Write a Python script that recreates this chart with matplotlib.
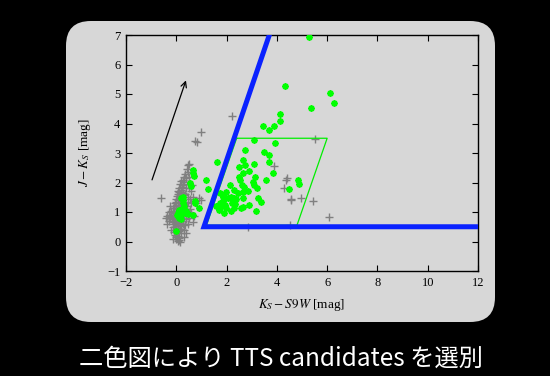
import matplotlib.pyplot as plt
from matplotlib.patches import FancyBboxPatch

plt.rcParams['mathtext.fontset'] = 'stix'
plt.rcParams['font.family'] = ['Liberation Serif']

# field stars (gray +)
field_x = [0.52, 0.45, 0.42, 0.48, 0.35, 0.30, 0.38, 0.25, 0.32, 0.20, 0.15, 0.28, 0.22, 0.10,
           0.40, 0.18, 0.05, 0.12, 0.25, 0.08, 0.30, 0.15, 0.02, 0.20, 0.10, -0.02, 0.05, 0.18,
           0.25, 0.00, -0.05, 0.10, 0.15, 0.05, -0.08, 0.20, 0.00, -0.12, 0.08, 0.30, -0.03, 0.12,
           -0.15, 0.05, 0.22, -0.08, 0.00, 0.15, -0.20, -0.10, 0.08, 0.30, -0.25, 0.02, -0.05, 0.18,
           -0.18, 0.10, -0.30, -0.08, 0.05, 0.25, -0.15, 0.00, 0.15, -0.10, 0.08, -0.02, 0.20, -0.12,
           0.05, 0.15, -0.05, 0.10, -0.08, 0.02, 0.18, -0.05, 0.08, 0.00, 0.12, -0.02, 0.10, 0.05,
           0.14, 0.45, 0.55, 0.68, 0.42, 0.50, 0.60, 0.70, 0.65, 0.40, 0.35, 0.28, 0.35, 0.50,
           0.62, 0.52, 0.45, 0.58, -0.35, -0.40, -0.22, -0.28, 0.30, 0.92, 0.98, 0.80,
           -0.35, -0.30, -0.25, 0.45, 0.50, 0.55, 0.40, -0.20, 0.30, -0.15, 0.60, 0.48,
           -0.62, 2.23, 0.99, 0.81, 0.76, 5.52, 3.90, 4.41, 4.38, 4.28, 4.58, 4.56, 4.97, 5.42,
           6.09, 2.87, 4.53]
field_y = [2.64, 2.58, 2.45, 2.35, 2.30, 2.20, 2.15, 2.10, 2.02, 2.05, 1.95, 1.90, 1.85, 1.82,
           1.80, 1.75, 1.70, 1.68, 1.65, 1.60, 1.58, 1.55, 1.55, 1.50, 1.45, 1.45, 1.40, 1.40,
           1.35, 1.35, 1.30, 1.30, 1.25, 1.22, 1.20, 1.18, 1.15, 1.12, 1.10, 1.10, 1.05, 1.02,
           1.00, 0.98, 0.97, 0.95, 0.92, 0.90, 0.90, 0.85, 0.85, 0.85, 0.82, 0.80, 0.78, 0.78,
           0.75, 0.72, 0.80, 0.70, 0.68, 0.70, 0.65, 0.62, 0.62, 0.58, 0.55, 0.52, 0.52, 0.48,
           0.45, 0.42, 0.40, 0.35, 0.32, 0.28, 0.30, 0.22, 0.20, 0.15, 0.12, 0.08, 0.05, 0.02,
           0.00, 1.52, 1.45, 1.50, 1.20, 1.00, 0.95, 0.88, 0.66, 0.75, 0.55, 0.60, 1.60, 1.80,
           1.92, 2.20, 1.95, 1.70, 0.88, 0.80, 1.05, 0.70, 0.38, 1.46, 1.42, 1.30,
           0.60, 1.00, 1.20, 0.60, 0.80, 1.10, 0.30, 0.40, 0.15, 0.10, 1.30, 1.35,
           1.48, 4.26, 3.72, 3.38, 3.40, 3.47, 2.55, 2.16, 2.07, 1.81, 1.45, 1.40, 1.48, 1.36,
           0.82, 0.50, 0.55]

# TTS candidates (green *)
cand_x = [5.28, 4.32, 6.13, 6.27, 5.36, 4.13, 4.12, 3.43, 3.87, 3.68, 3.11, 3.93, 2.74, 3.47,
          3.68, 1.62, 2.66, 3.08, 3.69, 2.75, 2.50, 2.90, 3.84, 2.64, 2.51, 3.15, 1.17, 3.57,
          4.86, 4.90, 2.54, 3.04, 3.08, 2.15, 2.71, 1.25, 2.60, 3.23, 4.50, 2.84, 2.29, 1.98,
          1.72, 2.45, 2.64, 2.18, 2.05, 1.85, 2.29, 2.66, 3.24, 2.38, 1.84, 3.37, 1.74, 2.21,
          2.34, 1.93, 2.90, 1.57, 1.81, 2.59, 2.66, 2.30, 1.69, 1.98, 3.18, 2.17, 1.91,
          0.92, 0.76, 0.65, 0.68, 0.71, 0.55, 0.60, 0.65, 0.74, 0.28, 0.27, 0.19, 0.25, 0.30,
          0.12, 0.22, 0.40, 0.08, 0.02, 0.15, 0.33, 0.45, 0.10, 0.18, 0.00]
cand_y = [6.92, 5.28, 5.04, 4.69, 4.51, 4.32, 4.09, 3.92, 3.93, 3.79, 3.43, 3.33, 3.10, 3.02,
          2.94, 2.71, 2.76, 2.63, 2.68, 2.59, 2.53, 2.38, 2.33, 2.31, 2.19, 2.19, 2.07, 2.09,
          2.07, 1.95, 2.07, 2.03, 1.91, 1.92, 1.85, 1.79, 1.91, 1.80, 1.79, 1.72, 1.74, 1.67,
          1.65, 1.63, 1.67, 1.51, 1.49, 1.50, 1.48, 1.47, 1.46, 1.43, 1.36, 1.33, 1.31, 1.31,
          1.27, 1.23, 1.23, 1.19, 1.19, 1.15, 1.16, 1.14, 1.07, 1.14, 1.05, 1.03, 0.95,
          1.14, 1.32, 2.41, 2.31, 2.23, 1.99, 1.88, 0.91, 1.37, 1.41, 1.50, 1.46, 1.30, 1.20,
          1.07, 1.10, 1.02, 0.98, 0.90, 0.85, 0.95, 0.92, 0.80, 0.75, 0.37]

# selection boundary and candidate box
bound_x = [3.7, 1.1, 11.9]
bound_y = [7.0, 0.5, 0.5]
box_x = [2.4, 6.0, 4.8, 1.2]
box_y = [3.5, 3.5, 0.55, 0.55]

fig = plt.figure(figsize=(5.5, 3.76), dpi=100, facecolor='black')
panel = FancyBboxPatch((66 / 550, 1 - 322 / 376), 429 / 550, 301 / 376,
                       boxstyle='round,pad=0,rounding_size=0.045',
                       transform=fig.transFigure, facecolor='#d7d7d7',
                       edgecolor='none', mutation_aspect=550 / 376, zorder=-5)
fig.patches.append(panel)

ax = fig.add_axes([126 / 550, 1 - 271 / 376, 352 / 550, 236 / 376])
ax.set_facecolor('none')
ax.set_zorder(2)

ax.plot(field_x, field_y, '+', color='#808080', ms=5.5, mew=1.0, zorder=2)
ax.plot(cand_x, cand_y, ls='none', marker=(8, 2, 0), color='#00ff00', ms=4.5, mew=1.3, zorder=3)
ax.plot(bound_x, bound_y, color='#0a22ff', lw=3.6, zorder=4, solid_joinstyle='miter')
ax.plot(box_x + box_x[:1], box_y + box_y[:1], color='#00ee00', lw=0.9, zorder=3)
ax.annotate('', xy=(0.42, 5.55), xytext=(-1.0, 2.0),
            arrowprops=dict(arrowstyle='->', color='black', lw=0.9))

ax.set_xlim(-2, 12)
ax.set_ylim(-1, 7)
ax.set_xticks(range(-2, 13, 2))
ax.set_yticks(range(-1, 8))
ax.tick_params(direction='in', top=True, right=True, length=4, width=0.8,
               labelsize=9, pad=4)
for s in ax.spines.values():
    s.set_linewidth(1.0)

ax.set_xlabel(r'$K_S - S9W$ [mag]', fontsize=9.5, labelpad=6)
ax.set_ylabel(r'$J - K_S$ [mag]', fontsize=9.5, labelpad=10)

fig.text(0.51, 1 - 359 / 376, '二色図により TTS candidates を選別', color='white',
         fontsize=17.5, ha='center', va='center',
         family=['Noto Sans CJK JP', 'DejaVu Sans'])

fig.savefig('out.png', dpi=100, facecolor='black')
